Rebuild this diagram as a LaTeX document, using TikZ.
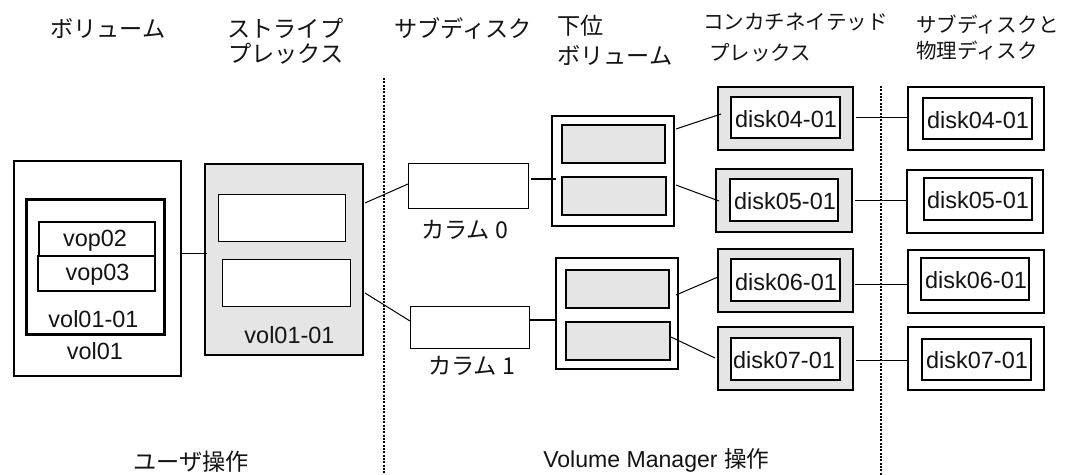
\documentclass[tikz,border=0pt]{standalone}
\usepackage{fontspec}
\setmainfont{Liberation Sans}
\newfontfamily\jpf{Noto Sans CJK JP}
\definecolor{panelgray}{RGB}{229,229,229}
\definecolor{ink}{RGB}{20,20,20}
\tikzset{
  x=0.75pt,y=-0.75pt,
  boxa/.style={draw=black,line width=0.75pt,fill=white,inner sep=0pt,outer sep=0pt},
  boxb/.style={draw=black,line width=1.5pt,fill=white,inner sep=0pt,outer sep=0pt},
  boxc/.style={draw=black,line width=2.25pt,fill=white,inner sep=0pt,outer sep=0pt},
  boxm/.style={draw=black,line width=1.25pt,fill=white,inner sep=0pt,outer sep=0pt},
  gray/.style={fill=panelgray},
  link/.style={draw=black,line width=0.75pt},
  thick link/.style={draw=black,line width=1.5pt},
  divider/.style={draw=black,line width=1pt,dash pattern=on 1.5pt off 1pt},
  lat/.style={font=\fontsize{17.6pt}{20pt}\selectfont,text=ink,inner sep=0pt},
  jp/.style={font=\jpf\fontsize{17.4pt}{20pt}\selectfont,text=ink,inner sep=0pt,align=left},
  jps/.style={font=\jpf\fontsize{15.4pt}{20pt}\selectfont,text=ink,inner sep=0pt,align=left},
}
% name, style, x1, y1, x2, y2, text
\newcommand\pbox[7]{\pgfmathsetmacro\bw{(#5-#3)*0.75}\pgfmathsetmacro\bh{(#6-#4)*0.75}%
  \node[#2,minimum width=\bw pt,minimum height=\bh pt] (#1) at ({(#3+#5)/2},{(#4+#6)/2}) {#7};}
\begin{document}
\begin{tikzpicture}
\useasboundingbox (0,0) rectangle (1072,475);
\fill[white] (0,0) rectangle (1072,475);
% dividers
\coordinate (d1a) at (384,78); \coordinate (d1b) at (384,475);
\coordinate (d2a) at (881,86); \coordinate (d2b) at (881,475);
\draw[divider] (d1a) -- (d1b);
\draw[divider] (d2a) -- (d2b);
% volume
\pbox{vol}{boxb}{14}{161}{181}{376}{}
\pbox{plex}{boxc}{26}{199}{164}{334}{}
\pbox{vopa}{boxm}{39}{222}{155}{256}{}
\pbox{vopb}{boxm}{38}{256}{155}{291}{}
\node[lat] (tvopa) at (95,241) {vop02};
\node[lat] (tvopb) at (97.5,275) {vop03};
\node[lat] (tplex) at (93.5,319) {vol01-01};
\node[lat] (tvol) at (95,351) {vol01};
% striped plex
\pbox{stripe}{boxb,gray}{205}{164}{363}{355}{}
\pbox{sa}{boxa}{218}{194}{345}{241}{}
\pbox{sb}{boxa}{222}{259}{350}{306}{}
\node[lat] (tstripe) at (289.5,335.5) {vol01-01};
% columns
\pbox{cola}{boxa}{408}{163}{528}{208}{}
\pbox{colb}{boxa}{410}{306}{529}{348}{}
\node[jp] (tcola) at (464.5,230) {カラム 0};
\node[jp] (tcolb) at (471.5,366) {カラム 1};
% subvolumes
\pbox{suba}{boxb}{552}{116}{674}{226}{}
\pbox{subaa}{boxb,gray}{562}{125}{665}{163}{}
\pbox{subab}{boxb,gray}{562}{177}{666}{215}{}
\pbox{subb}{boxb}{556}{258}{678}{369}{}
\pbox{subba}{boxb,gray}{566}{270}{669}{308}{}
\pbox{subbb}{boxb,gray}{566}{322}{670}{360}{}
% concat plexes
\pbox{ga}{boxb,gray}{718}{87}{853}{150}{}
\pbox{gb}{boxb,gray}{716}{169}{852}{232}{}
\pbox{gc}{boxb,gray}{718}{249}{853}{312}{}
\pbox{gd}{boxb,gray}{718}{327}{853}{390}{}
\pbox{gia}{boxb}{731}{97}{840}{138}{}
\pbox{gib}{boxb}{730}{179}{838}{221}{}
\pbox{gic}{boxb}{731}{259}{840}{301}{}
\pbox{gid}{boxb}{731}{338}{840}{380}{}
\node[lat] (tga) at (786,119) {disk04-01};
\node[lat] (tgb) at (785,201) {disk05-01};
\node[lat] (tgc) at (786,282) {disk06-01};
\node[lat] (tgd) at (784,360) {disk07-01};
% physical
\pbox{pa}{boxb}{908}{87}{1044}{150}{}
\pbox{pb}{boxb}{907}{170}{1043}{233}{}
\pbox{pc}{boxb}{908}{250}{1044}{313}{}
\pbox{pd}{boxb}{908}{327}{1044}{390}{}
\pbox{pia}{boxb}{923}{98}{1032}{139}{}
\pbox{pib}{boxb}{924}{178}{1032}{220}{}
\pbox{pic}{boxb}{921}{258}{1029}{300}{}
\pbox{pid}{boxb}{922}{339}{1031}{380}{}
\node[lat] (tpa) at (978,120) {disk04-01};
\node[lat] (tpb) at (978,200) {disk05-01};
\node[lat] (tpc) at (976,280) {disk06-01};
\node[lat] (tpd) at (977,360) {disk07-01};
% connector ends
\coordinate (l1a) at (181,253); \coordinate (l1b) at (207,253);
\coordinate (l2a) at (365,203); \coordinate (l2b) at (408,184);
\coordinate (l3a) at (365,293); \coordinate (l3b) at (410,321);
\coordinate (l4a) at (531,179); \coordinate (l4b) at (556,179);
\coordinate (l5a) at (529,320); \coordinate (l5b) at (556,320);
\coordinate (l6a) at (676,129); \coordinate (l6b) at (721,114);
\coordinate (l7a) at (676,185); \coordinate (l7b) at (719,201);
\coordinate (l8a) at (676,295); \coordinate (l8b) at (718,277);
\coordinate (l9a) at (671,337); \coordinate (l9b) at (715,358);
\coordinate (m1a) at (856,117); \coordinate (m1b) at (908,117);
\coordinate (m2a) at (855,200); \coordinate (m2b) at (907,200);
\coordinate (m3a) at (855,284); \coordinate (m3b) at (908,284);
\coordinate (m4a) at (856,360); \coordinate (m4b) at (908,360);
\draw[link] (l1a) -- (l1b);
\draw[link] (l2a) -- (l2b);
\draw[link] (l3a) -- (l3b);
\draw[thick link] (l4a) -- (l4b);
\draw[thick link] (l5a) -- (l5b);
\draw[link] (l6a) -- (l6b);
\draw[link] (l7a) -- (l7b);
\draw[link] (l8a) -- (l8b);
\draw[link] (l9a) -- (l9b);
\draw[link] (m1a) -- (m1b);
\draw[link] (m2a) -- (m2b);
\draw[link] (m3a) -- (m3b);
\draw[link] (m4a) -- (m4b);
% headings
\node[jp,anchor=west] (h1) at (50,28) {ボリューム};
\node[jp,anchor=west] (h2) at (227,28) {ストライプ};
\node[jp,anchor=west] (h3) at (228,54) {プレックス};
\node[jp,anchor=west] (h4) at (394,28) {サブディスク};
\node[jp,anchor=west] (h5) at (557,26) {下位};
\node[jp,anchor=west] (h6) at (557,55) {ボリューム};
\node[jps,anchor=west] (h7) at (703,22) {コンカチネイテッド};
\node[jps,anchor=west] (h8) at (709,53) {プレックス};
\node[jps,anchor=west] (h9) at (916,25) {サブディスクと};
\node[jps,anchor=west] (h10) at (916,51) {物理ディスク};
\node[jp,anchor=west] (f1) at (133,462) {ユーザ操作};
\node[lat,font=\fontsize{17.3pt}{20pt}\selectfont,anchor=west] (f2) at (543,460) {Volume Manager {\jpf\fontsize{17pt}{20pt}\selectfont 操作}};
\end{tikzpicture}
\end{document}
